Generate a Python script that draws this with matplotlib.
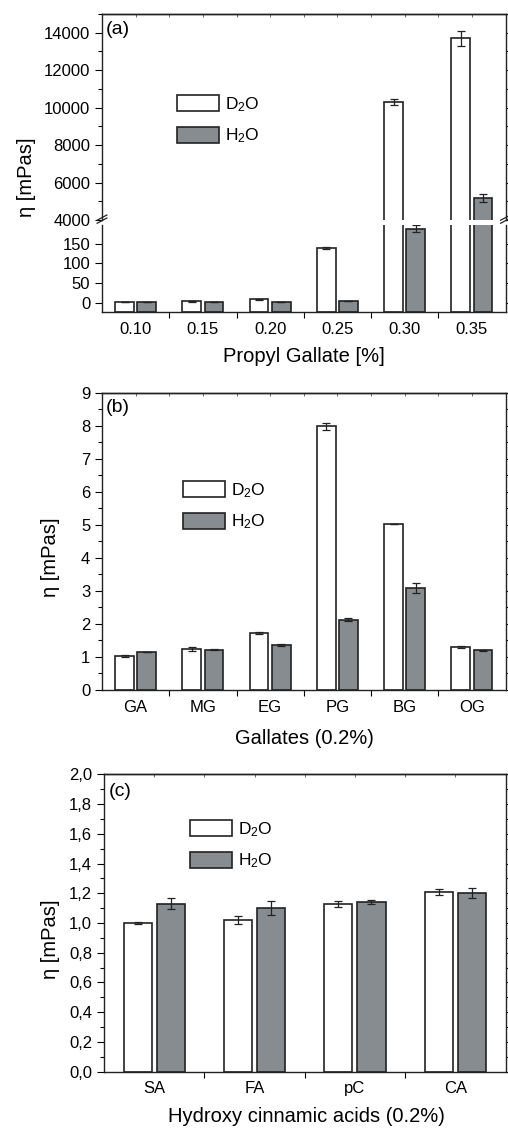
import numpy as np
import matplotlib
matplotlib.use('Agg')
import matplotlib.pyplot as plt
from matplotlib.ticker import MultipleLocator, FixedLocator, NullFormatter, FuncFormatter

plt.rcParams['font.family'] = ['Liberation Sans', 'DejaVu Sans']
plt.rcParams['mathtext.fontset'] = 'custom'
plt.rcParams['mathtext.rm'] = 'Liberation Sans'
plt.rcParams['mathtext.it'] = 'Liberation Sans:italic'

# (a) propyl gallate concentration series
pg_conc = ['0.10', '0.15', '0.20', '0.25', '0.30', '0.35']
pg_d2o = [2, 3, 8, 139, 10290, 13700]
pg_d2o_err = [0.5, 0.5, 0.5, 3, 170, 400]
pg_h2o = [1, 1, 1, 4, 188, 5180]
pg_h2o_err = [0.3, 0.3, 0.3, 1, 9, 200]

# (b) gallates at 0.2 %
gallates = ['GA', 'MG', 'EG', 'PG', 'BG', 'OG']
gal_d2o = [1.03, 1.25, 1.74, 7.98, 5.03, 1.31]
gal_d2o_err = [0.02, 0.06, 0.03, 0.10, 0.0, 0.03]
gal_h2o = [1.15, 1.22, 1.36, 2.13, 3.09, 1.20]
gal_h2o_err = [0.0, 0.01, 0.02, 0.05, 0.16, 0.02]

# (c) hydroxy cinnamic acids at 0.2 %
acids = ['SA', 'FA', 'pC', 'CA']
hca_d2o = [1.00, 1.02, 1.13, 1.21]
hca_d2o_err = [0.01, 0.025, 0.02, 0.02]
hca_h2o = [1.13, 1.10, 1.14, 1.20]
hca_h2o_err = [0.035, 0.045, 0.015, 0.035]

GREY = '#878c91'
EDGE = '#222222'
W = 0.28
OFF = 0.165
TICK_FS = 12
LAB_FS = 14.5
LEG_FS = 12.5
PG_FLOOR = -24  # bottom of the lower (a) axis, bars start there


def draw_bars(ax, d2o, d2o_err, h2o, h2o_err, base=0):
    x = np.arange(len(d2o))
    ekw = dict(ecolor=EDGE, elinewidth=0.9, capsize=3, capthick=0.9)
    ax.bar(x - OFF, np.array(d2o) - base, W, bottom=base, yerr=d2o_err, color='white',
           edgecolor=EDGE, linewidth=1.2, error_kw=ekw, label=r'D$_\mathregular{2}$O')
    ax.bar(x + OFF, np.array(h2o) - base, W, bottom=base, yerr=h2o_err, color=GREY,
           edgecolor=EDGE, linewidth=1.2, error_kw=ekw, label=r'H$_\mathregular{2}$O')


def label_formatter(labels):
    return FuncFormatter(lambda v, p: labels[int(round(v))] if 0 <= int(round(v)) < len(labels) else '')


def style_x(ax, labels):
    n = len(labels)
    ax.set_xlim(-0.5, n - 0.5)
    ax.xaxis.set_major_locator(FixedLocator(np.arange(0.5, n - 0.5)))
    ax.xaxis.set_major_formatter(NullFormatter())
    ax.xaxis.set_minor_locator(FixedLocator(np.arange(n)))
    ax.xaxis.set_minor_formatter(label_formatter(labels))
    ax.tick_params(axis='x', which='major', direction='out', length=4, width=0.8)
    ax.tick_params(axis='x', which='minor', length=0, pad=7, labelsize=TICK_FS)


def style_y(ax):
    ax.tick_params(axis='y', which='both', direction='out', right=True, labelsize=TICK_FS, width=0.8)
    ax.tick_params(axis='y', which='major', length=5)
    ax.tick_params(axis='y', which='minor', length=3)
    for s in ax.spines.values():
        s.set_linewidth(1.0)
        s.set_color(EDGE)


def top_ticks(ax, n):
    sec = ax.secondary_xaxis('top')
    sec.xaxis.set_major_locator(FixedLocator(np.arange(-0.5, n, 0.5)))
    sec.xaxis.set_major_formatter(NullFormatter())
    sec.tick_params(direction='in', length=2.5, width=0.6, color='#555555')
    sec.spines['top'].set_linewidth(1.0)


def add_legend(ax, left_px, top_px):
    ax.legend(loc='upper left', bbox_to_anchor=(left_px / 508, 1 - top_px / H),
              bbox_transform=fig.transFigure, frameon=False, fontsize=LEG_FS,
              handlelength=2.4, handleheight=1.0, labelspacing=0.75,
              handletextpad=0.35, borderpad=0, borderaxespad=0)


fig = plt.figure(figsize=(5.08, 11.29), dpi=100)
R = 505.5 / 508
H = 1129.0


def rect(left_px, top_px, bottom_px):
    return [left_px / 508, 1 - bottom_px / H, R - left_px / 508, (bottom_px - top_px) / H]


# ---- panel (a): broken axis ----
ax_up = fig.add_axes(rect(102, 14, 220))
ax_lo = fig.add_axes(rect(102, 225, 312))
for ax in (ax_up, ax_lo):
    draw_bars(ax, pg_d2o, pg_d2o_err, pg_h2o, pg_h2o_err, base=PG_FLOOR)
    style_y(ax)
ax_up.set_ylim(4000, 15000)
ax_up.yaxis.set_major_locator(FixedLocator([4000, 6000, 8000, 10000, 12000, 14000]))
ax_up.yaxis.set_minor_locator(MultipleLocator(1000))
ax_lo.set_ylim(PG_FLOOR, 198)
ax_lo.yaxis.set_major_locator(FixedLocator([0, 50, 100, 150]))
ax_lo.yaxis.set_minor_locator(FixedLocator([]))
ax_up.spines['bottom'].set_visible(False)
ax_lo.spines['top'].set_visible(False)
ax_up.tick_params(axis='x', which='both', bottom=False, labelbottom=False)
style_x(ax_lo, pg_conc)
ax_up.set_xlim(-0.5, 5.5)
top_ticks(ax_up, 6)

# break marks on the spines
for xa in (0, 1):
    for dy in (0, 0.035):
        ax_lo.plot([xa - 0.012, xa + 0.012], [1.02 + dy, 1.08 + dy], transform=ax_lo.transAxes,
                   color=EDGE, lw=0.9, clip_on=False)

add_legend(ax_up, 177, 95)
fig.text(106 / 508, 1 - 29 / H, '(a)', fontsize=14, ha='left', va='center')
fig.text(27 / 508, 1 - 177 / H, 'η [mPas]', fontsize=LAB_FS, rotation=90, ha='center', va='center')
fig.text(304 / 508, 1 - 356 / H, 'Propyl Gallate [%]', fontsize=LAB_FS, ha='center', va='center')

# ---- panel (b) ----
ax_b = fig.add_axes(rect(102, 392.7, 690))
draw_bars(ax_b, gal_d2o, gal_d2o_err, gal_h2o, gal_h2o_err)
style_y(ax_b)
ax_b.set_ylim(0, 9)
ax_b.yaxis.set_major_locator(MultipleLocator(1))
ax_b.yaxis.set_minor_locator(MultipleLocator(0.5))
style_x(ax_b, gallates)
top_ticks(ax_b, 6)
add_legend(ax_b, 183, 481)
fig.text(106 / 508, 1 - 407.5 / H, '(b)', fontsize=14, ha='left', va='center')
fig.text(50 / 508, 1 - 557 / H, 'η [mPas]', fontsize=LAB_FS, rotation=90, ha='center', va='center')
fig.text(304 / 508, 1 - 738 / H, 'Gallates (0.2%)', fontsize=LAB_FS, ha='center', va='center')

# ---- panel (c) ----
ax_c = fig.add_axes(rect(104, 774.3, 1071.7))
draw_bars(ax_c, hca_d2o, hca_d2o_err, hca_h2o, hca_h2o_err)
style_y(ax_c)
ax_c.set_ylim(0, 2.0)
ax_c.yaxis.set_major_locator(MultipleLocator(0.2))
ax_c.yaxis.set_minor_locator(MultipleLocator(0.1))
ax_c.yaxis.set_major_formatter(FuncFormatter(lambda v, p: f'{v:.1f}'.replace('.', ',')))
style_x(ax_c, acids)
top_ticks(ax_c, 4)
add_legend(ax_c, 190, 820)
fig.text(109 / 508, 1 - 792 / H, '(c)', fontsize=14, ha='left', va='center')
fig.text(50 / 508, 1 - 939 / H, 'η [mPas]', fontsize=LAB_FS, rotation=90, ha='center', va='center')
fig.text(306 / 508, 1 - 1116 / H, 'Hydroxy cinnamic acids (0.2%)', fontsize=LAB_FS, ha='center', va='center')

fig.savefig('out.png', dpi=100)
